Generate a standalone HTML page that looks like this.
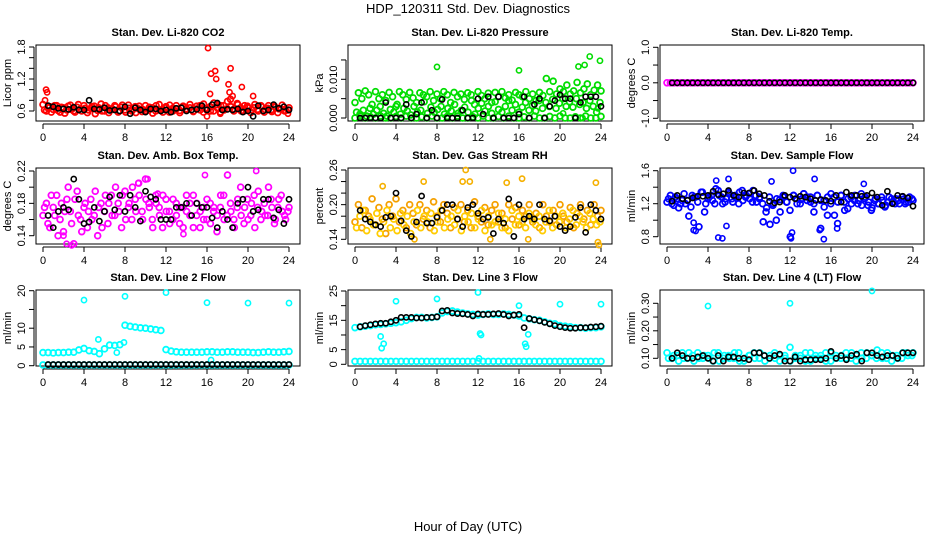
<!DOCTYPE html>
<html><head><meta charset="utf-8"><title>HDP_120311 Std. Dev. Diagnostics</title>
<style>
body{margin:0;background:#fff;}
svg{display:block;font-family:"Liberation Sans",Arial,sans-serif;}
</style></head>
<body>
<svg id="chart" width="936" height="540" viewBox="0 0 936 540">
<text x="468" y="13" text-anchor="middle" font-size="13">HDP_120311 Std. Dev. Diagnostics</text>
<text x="468" y="531" text-anchor="middle" font-size="13">Hour of Day (UTC)</text>
</svg>
<script>
// ---------- data ----------
const hourTicks = [0,4,8,12,16,20,24];

const co2Red1 = [0.72,0.6,0.68,0.63,0.7,0.58,0.66,0.62,0.71,0.6,0.67,0.64,0.7,0.57,0.65,0.69,0.61,0.73,0.6,0.66,0.63,0.7,0.58,0.67,0.62,0.71,0.6,0.68,0.64,0.59,0.7,0.62,0.66,0.6,0.72,0.63,0.68,0.58,0.65,0.7,0.61,0.67,0.64,0.72,0.6,0.69,0.62,0.73,0.65,0.6,0.75,0.66,0.7,0.62,0.78,0.68,0.64,0.72,0.6,0.7,0.66,0.62,0.72,0.6,0.68,0.63,0.7,0.59,0.67,0.64,0.71,0.61,0.66];
const co2Red2 = [0.62,0.66,0.58,0.7,0.61,0.67,0.56,0.69,0.63,0.58,0.72,0.6,0.65,0.62,0.68,0.55,0.66,0.6,0.7,0.57,0.64,0.68,0.6,0.71,0.58,0.65,0.62,0.57,0.69,0.63,0.6,0.67,0.56,0.7,0.62,0.58,0.66,0.71,0.6,0.64,0.57,0.69,0.62,0.66,0.59,0.64,0.7,0.58,0.62,0.68,0.6,0.72,0.58,0.7,0.64,0.82,0.6,0.74,0.66,0.6,0.69,0.57,0.66,0.63,0.7,0.58,0.65,0.62,0.69,0.57,0.64,0.6,0.62];
const co2OutHours = [0.3,0.4,0.2,16.1,16.4,16.3,16.8,16.9,18.3,18.1,18.2,19.4,18.5,20.5,16.0,17.3,23.9];
const co2OutVals = [1.0,0.95,0.8,1.78,1.3,0.92,1.35,1.2,1.4,1.1,0.95,1.05,0.88,0.88,0.5,0.55,0.55];
const co2Black = [0.7,0.68,0.65,0.64,0.63,0.67,0.62,0.62,0.8,0.64,0.63,0.66,0.61,0.62,0.6,0.68,0.55,0.66,0.62,0.58,0.64,0.64,0.6,0.62,0.58,0.65,0.66,0.6,0.62,0.63,0.7,0.62,0.72,0.75,0.62,0.63,0.62,0.64,0.58,0.6,0.5,0.7,0.6,0.62,0.72,0.65,0.68,0.62];

const presGreen1 = [0.004,0.0065,0.005,0.007,0.006,0.0035,0.0068,0.005,0.006,0.0045,0.0066,0.0055,0.003,0.0068,0.006,0.0048,0.0066,0.0052,0.004,0.0065,0.006,0.0055,0.0068,0.0045,0.0062,0.005,0.0068,0.006,0.004,0.0066,0.0055,0.0062,0.0048,0.0065,0.006,0.0035,0.0068,0.0058,0.005,0.0064,0.004,0.0066,0.0055,0.0068,0.0052,0.006,0.0046,0.0066,0.006,0.0055,0.0068,0.005,0.0062,0.0045,0.0066,0.0058,0.0102,0.0068,0.0095,0.0062,0.0075,0.0068,0.0085,0.0062,0.007,0.0092,0.0065,0.0075,0.0088,0.006,0.0072,0.0085,0.007];
const presGreen2 = [0.0015,0.001,0.002,0.0005,0.0025,0.001,0.002,0.003,0.0012,0.0005,0.0022,0.0015,0.0035,0.001,0.0025,0.0018,0.0008,0.003,0.0015,0.002,0.0042,0.0012,0.0028,0.0015,0.0022,0.003,0.001,0.0025,0.0018,0.0035,0.0012,0.002,0.0028,0.0015,0.0045,0.001,0.0025,0.0038,0.0018,0.003,0.0012,0.0042,0.0022,0.0015,0.003,0.0045,0.002,0.0035,0.0015,0.0028,0.004,0.002,0.0032,0.0018,0.0045,0.0025,0.004,0.003,0.0048,0.0025,0.0038,0.005,0.003,0.0042,0.0028,0.005,0.0035,0.004,0.0025,0.0045,0.003,0.0015,0.004];
const presGreen3 = [0,0.0005,0,0.0003,0,0.0005,0,0,0.0004,0,0.0005,0,0,0.0003,0,0.0005,0,0,0.0004,0,0.0005,0,0,0.0003,0,0.0005,0,0,0.0004,0,0.0005,0,0,0.0003,0,0.0005,0,0,0.0004,0,0.0005,0,0,0.0003,0,0.0005,0,0,0.0004];
const presOutHours = [8,16,21.8,22.4,22.9,23.9,23.7,20.3,22.2];
const presOutVals = [0.0132,0.0123,0.0133,0.0137,0.0159,0.0148,0.0025,0.0012,0.0];
const presBlack = [0,0,0,0,0,0.004,0,0,0,0.0035,0,0.001,0.004,0,0.002,0,0.0048,0,0,0,0.002,0,0,0.005,0.001,0.0055,0,0.0055,0,0,0,0.001,0.0055,0,0.0035,0.005,0,0.003,0.0045,0.006,0.005,0.005,0,0.004,0.0055,0.0055,0.0055,0.003];

const tempMagenta = [0,0,0,0,0,0,0,0,0,0,0,0,0,0,0,0,0,0,0,0,0,0,0,0,0,0,0,0,0,0,0,0,0,0,0,0,0,0,0,0,0,0,0,0,0,0,0,0,0,0,0,0,0,0,0,0,0,0,0,0,0,0,0,0,0,0,0,0,0,0,0,0,0];
const tempBlack = [0,0,0,0,0,0,0,0,0,0,0,0,0,0,0,0,0,0,0,0,0,0,0,0,0,0,0,0,0,0,0,0,0,0,0,0,0,0,0,0,0,0,0,0,0,0,0,0];

const ambMag1 = [0.165,0.18,0.15,0.175,0.19,0.16,0.145,0.185,0.17,0.13,0.195,0.16,0.175,0.15,0.185,0.165,0.14,0.18,0.17,0.155,0.19,0.165,0.18,0.15,0.195,0.175,0.16,0.185,0.205,0.17,0.21,0.18,0.16,0.19,0.175,0.15,0.185,0.17,0.16,0.18,0.155,0.175,0.19,0.165,0.15,0.18,0.17,0.16,0.185,0.155,0.175,0.165,0.19,0.16,0.215,0.17,0.15,0.185,0.165,0.175,0.16,0.18,0.15,0.195,0.17,0.165,0.2,0.175,0.16,0.185,0.17,0.16,0.175];
const ambMag2 = [0.175,0.155,0.19,0.165,0.14,0.18,0.17,0.2,0.155,0.185,0.165,0.145,0.18,0.17,0.16,0.195,0.175,0.15,0.19,0.18,0.165,0.2,0.17,0.19,0.16,0.18,0.2,0.17,0.19,0.16,0.185,0.175,0.15,0.18,0.165,0.19,0.17,0.155,0.185,0.165,0.175,0.15,0.17,0.18,0.19,0.165,0.15,0.175,0.16,0.18,0.17,0.145,0.175,0.19,0.165,0.18,0.16,0.175,0.2,0.155,0.185,0.165,0.19,0.175,0.16,0.18,0.165,0.185,0.155,0.175,0.19,0.165,0.17];
const ambOutHours = [2.3,2.8,2.0,15.8,20.8,11.2,13.7,9.3,10.2];
const ambOutVals = [0.13,0.128,0.14,0.215,0.22,0.192,0.142,0.205,0.21];
const ambBlack = [0.165,0.15,0.17,0.175,0.172,0.21,0.185,0.155,0.157,0.175,0.158,0.17,0.188,0.172,0.19,0.17,0.19,0.175,0.158,0.195,0.188,0.185,0.16,0.16,0.16,0.175,0.175,0.18,0.165,0.18,0.175,0.175,0.162,0.15,0.17,0.16,0.15,0.18,0.185,0.2,0.17,0.172,0.185,0.185,0.162,0.172,0.155,0.185];

const rhOrange1 = [0.17,0.2,0.16,0.19,0.18,0.21,0.165,0.195,0.175,0.15,0.2,0.18,0.21,0.17,0.19,0.16,0.2,0.185,0.165,0.2,0.175,0.19,0.16,0.205,0.18,0.17,0.2,0.185,0.16,0.195,0.175,0.2,0.17,0.19,0.16,0.205,0.18,0.17,0.195,0.165,0.19,0.2,0.17,0.185,0.16,0.2,0.175,0.195,0.165,0.19,0.18,0.2,0.17,0.185,0.16,0.2,0.18,0.17,0.19,0.165,0.2,0.18,0.17,0.195,0.16,0.185,0.2,0.175,0.19,0.165,0.2,0.18,0.19];
const rhOrange2 = [0.16,0.18,0.19,0.155,0.175,0.165,0.185,0.15,0.17,0.19,0.16,0.175,0.155,0.185,0.165,0.18,0.15,0.17,0.19,0.16,0.18,0.17,0.185,0.155,0.17,0.19,0.16,0.175,0.18,0.165,0.19,0.155,0.18,0.17,0.185,0.16,0.175,0.19,0.155,0.18,0.165,0.17,0.185,0.16,0.175,0.155,0.19,0.165,0.18,0.17,0.16,0.185,0.175,0.165,0.18,0.155,0.17,0.19,0.16,0.18,0.17,0.185,0.16,0.175,0.19,0.165,0.18,0.17,0.16,0.185,0.175,0.165,0.17];
const rhOutHours = [10.8,16.3,6.7,10.5,11.2,2.7,14.8,23.5,5.8,13.2,16.9,23.7,23.8];
const rhOutVals = [0.26,0.245,0.24,0.24,0.24,0.232,0.238,0.238,0.14,0.14,0.14,0.135,0.13];
const rhBlack = [0.19,0.175,0.17,0.165,0.162,0.178,0.18,0.22,0.172,0.155,0.145,0.17,0.215,0.168,0.168,0.178,0.19,0.2,0.2,0.175,0.162,0.195,0.2,0.185,0.175,0.178,0.15,0.175,0.168,0.21,0.145,0.2,0.175,0.18,0.175,0.2,0.175,0.172,0.18,0.162,0.155,0.162,0.178,0.195,0.152,0.2,0.19,0.175];

const flowBlue1 = [1.22,1.3,1.18,1.26,1.2,1.32,1.24,1.16,1.28,1.22,1.34,1.1,1.26,1.3,1.2,1.36,1.28,1.22,1.34,1.26,1.3,1.2,1.36,1.28,1.32,1.22,1.3,1.26,1.2,1.1,1.28,1.18,1.0,1.25,1.3,1.22,1.12,1.3,1.26,1.2,1.32,1.24,1.28,1.2,1.3,1.24,1.16,1.28,1.32,1.06,1.22,1.3,1.12,1.26,1.2,1.3,1.24,1.18,1.28,1.22,1.15,1.26,1.2,1.24,1.18,1.28,1.22,1.26,1.2,1.25,1.22,1.28,1.24];
const flowBlue2 = [1.26,1.2,1.28,1.15,1.24,1.2,1.05,1.3,1.28,0.92,1.34,1.2,1.28,1.24,1.38,1.3,1.2,1.26,1.32,1.22,1.28,1.34,1.24,1.3,1.26,1.36,1.22,1.28,0.98,1.15,0.95,1.2,1.26,1.1,1.28,1.22,0.8,1.3,1.2,1.25,1.32,1.28,1.22,1.1,1.3,0.9,1.24,1.06,1.2,1.28,0.96,1.3,1.22,1.14,1.28,1.24,1.2,1.32,1.26,1.18,1.12,1.24,1.2,1.28,1.16,1.22,1.26,1.2,1.24,1.28,1.2,1.22,1.26];
const flowOutHours = [2.6,2.8,2.6,5.0,5.4,5.8,12.1,12.2,12.3,15.3,14.9,16.6,4.8,6.0,14.4,19.2,10.2];
const flowOutVals = [0.88,0.87,0.97,0.79,0.78,0.93,0.78,0.85,1.6,0.77,0.88,0.9,1.48,1.5,1.5,1.44,1.47];
const flowBlack = [1.23,1.3,1.26,1.24,1.27,1.29,1.29,1.3,1.35,1.31,1.32,1.36,1.3,1.28,1.33,1.33,1.36,1.32,1.3,1.23,1.21,1.22,1.3,1.28,1.26,1.29,1.28,1.26,1.24,1.25,1.24,1.23,1.3,1.22,1.34,1.3,1.3,1.29,1.3,1.33,1.28,1.18,1.35,1.2,1.3,1.29,1.27,1.17];

const line2Cyan = [3.5,3.5,3.4,3.5,3.5,3.6,3.6,4.2,4.6,4.0,3.8,3.2,4.5,5.5,5.4,5.6,10.8,10.5,10.3,10.1,10.0,9.8,9.6,9.4,4.3,3.9,3.7,3.6,3.6,3.6,3.6,3.6,3.7,3.7,3.6,3.6,3.7,3.7,3.6,3.6,3.6,3.5,3.5,3.6,3.7,3.6,3.6,3.7,3.8];
const line2CyanLow = [0.2,0.2,0.2,0.2,0.2,0.2,0.2,0.2,0.2,0.2,0.2,0.2,0.2,0.2,0.2,0.2,0.2,0.2,0.2,0.2,0.2,0.2,0.2,0.2,0.2,0.2,0.2,0.2,0.2,0.2,0.2,0.2,0.2,0.2,0.2,0.2,0.2,0.2,0.2,0.2,0.2,0.2,0.2,0.2,0.2,0.2,0.2,0.2,0.2];
const line2OutHours = [4,8,12,16,20,24,5.4,7.9,7.2,16.4];
const line2OutVals = [17.5,18.5,19.5,16.8,16.7,16.7,7,6.2,3.5,1.5];
const line2Black = [0.3,0.3,0.3,0.3,0.3,0.3,0.3,0.3,0.3,0.3,0.3,0.3,0.3,0.3,0.3,0.3,0.3,0.3,0.3,0.3,0.3,0.3,0.3,0.3,0.3,0.3,0.3,0.3,0.3,0.3,0.3,0.3,0.3,0.3,0.3,0.3,0.3,0.3,0.3,0.3,0.3,0.3,0.3,0.3,0.3,0.3,0.3,0.3];

const line3Cyan = [12.5,12.8,13,13.2,13.5,13.6,13.8,14,14.2,14.5,15,15.6,16,16,15.8,16,16.2,17.5,18,18.2,17.8,17.5,17.2,17,16.8,17,17.2,17,17,17.2,17,16.8,16.5,15.8,15.5,15.2,15,14.5,14,13.8,13.2,13,12.8,12.5,12.5,12.3,12.5,12.5,12.8];
const line3CyanLow = [1,1,1,1,1,1,1,1,1,1,1,1,1,1,1,1,1,1,1,1,1,1,1,1,1,1,1,1,1,1,1,1,1,1,1,1,1,1,1,1,1,1,1,1,1,1,1,1,1];
const line3OutHours = [4,8,12,16,20,24,2.5,2.6,2.8,12.2,12.3,16.6,16.7,16.9,12.1];
const line3OutVals = [21.5,22.3,24.5,20,20.5,20.5,9.5,5.5,7,10.5,10,7,6,10.2,2];
const line3Black = [12.8,13.2,13.5,13.8,14,14,14.5,15,16,16,16,15.8,15.8,16,16,16.2,18.2,18.4,17.5,17.3,17.2,17,16.5,17.2,17,17,17.2,17.3,17,16.5,16.8,17,12.5,15.6,15.2,14.8,14.3,13.8,13.2,12.8,12.5,12.3,12.3,12.5,12.5,12.7,12.8,13];

const line4Cyan1 = [0.12,0.1,0.11,0.12,0.1,0.11,0.12,0.1,0.11,0.09,0.12,0.1,0.11,0.1,0.12,0.09,0.11,0.12,0.1,0.11,0.1,0.12,0.09,0.11,0.14,0.1,0.11,0.09,0.12,0.1,0.11,0.09,0.12,0.1,0.11,0.1,0.12,0.11,0.1,0.12,0.11,0.13,0.1,0.12,0.11,0.1,0.12,0.11,0.12];
const line4Cyan2 = [0.1,0.11,0.09,0.1,0.12,0.09,0.1,0.11,0.1,0.12,0.09,0.11,0.1,0.12,0.09,0.1,0.11,0.1,0.12,0.09,0.11,0.1,0.11,0.1,0.09,0.11,0.1,0.12,0.09,0.11,0.1,0.12,0.09,0.11,0.1,0.12,0.1,0.09,0.12,0.1,0.11,0.1,0.12,0.1,0.09,0.11,0.1,0.12,0.11];
const line4OutHours = [4,12,20];
const line4OutVals = [0.29,0.3,0.345];
const line4Black = [0.1,0.12,0.11,0.1,0.1,0.105,0.11,0.1,0.09,0.11,0.09,0.105,0.105,0.1,0.1,0.095,0.12,0.12,0.11,0.1,0.11,0.115,0.09,0.09,0.105,0.09,0.095,0.095,0.095,0.095,0.1,0.125,0.1,0.11,0.095,0.11,0.115,0.09,0.12,0.12,0.11,0.105,0.11,0.11,0.1,0.12,0.12,0.12];

// ---------- layout ----------
const NS = 'http://www.w3.org/2000/svg';
const svg = document.getElementById('chart');
const colLeft = [36, 348, 660];
const rowTop = [45, 168, 290];
const boxW = 264, boxH = 76;

function mk(tag, attrs, parent){
  const e = document.createElementNS(NS, tag);
  for (const k in attrs) e.setAttribute(k, attrs[k]);
  (parent||svg).appendChild(e);
  return e;
}

const panels = [
 {key:'co2',title:'Stan. Dev. Li-820 CO2',ylab:'Licor ppm',col:0,row:0,ref:[1.8,2,0.6,66],ticks:[0.6,0.8,1.0,1.2,1.4,1.6,1.8],labels:[0.6,1.2,1.8],fmt:1,
  series:[{v:co2Red1,c:'#ff0000',s:0,e:24},{v:co2Red2,c:'#ff0000',s:0.15,e:23.9}],outH:co2OutHours,outV:co2OutVals,outC:'#ff0000',black:co2Black},
 {key:'pressure',title:'Stan. Dev. Li-820 Pressure',ylab:'kPa',col:1,row:0,ref:[0.01,34.3,0,73],ticks:[0,0.005,0.01,0.015],labels:[0,0.01],fmt:3,
  series:[{v:presGreen1,c:'#00dd00',s:0,e:24},{v:presGreen2,c:'#00dd00',s:0.15,e:23.9},{v:presGreen3,c:'#00dd00',s:0,e:24}],outH:presOutHours,outV:presOutVals,outC:'#00dd00',black:presBlack},
 {key:'licor-temp',title:'Stan. Dev. Li-820 Temp.',ylab:'degrees C',col:2,row:0,ref:[1,2.3,-1,73.3],ticks:[-1,-0.5,0,0.5,1],labels:[-1,0,1],fmt:1,
  series:[{v:tempMagenta,c:'#ff00ff',s:0,e:24}],outH:[],outV:[],outC:'#ff00ff',black:tempBlack},
 {key:'amb-box-temp',title:'Stan. Dev. Amb. Box Temp.',ylab:'degrees C',col:0,row:1,ref:[0.22,3,0.14,67.7],ticks:[0.14,0.16,0.18,0.2,0.22],labels:[0.14,0.18,0.22],fmt:2,
  series:[{v:ambMag1,c:'#ff00ff',s:0,e:24},{v:ambMag2,c:'#ff00ff',s:0.15,e:23.9}],outH:ambOutHours,outV:ambOutVals,outC:'#ff00ff',black:ambBlack},
 {key:'gas-rh',title:'Stan. Dev. Gas Stream RH',ylab:'percent',col:1,row:1,ref:[0.26,2,0.14,71.3],ticks:[0.14,0.16,0.18,0.2,0.22,0.24,0.26],labels:[0.14,0.2,0.26],fmt:2,
  series:[{v:rhOrange1,c:'#f5a000',s:0,e:24},{v:rhOrange2,c:'#ffcc00',s:0.15,e:23.9}],outH:rhOutHours,outV:rhOutVals,outC:'#f5b000',black:rhBlack},
 {key:'sample-flow',title:'Stan. Dev. Sample Flow',ylab:'ml/min',col:2,row:1,ref:[1.6,2.7,0.8,68.7],ticks:[0.8,1.0,1.2,1.4,1.6],labels:[0.8,1.2,1.6],fmt:1,
  series:[{v:flowBlue1,c:'#0000ff',s:0,e:24},{v:flowBlue2,c:'#0000ff',s:0.15,e:23.9}],outH:flowOutHours,outV:flowOutVals,outC:'#0000ff',black:flowBlack},
 {key:'line2-flow',title:'Stan. Dev. Line 2 Flow',ylab:'ml/min',col:0,row:2,ref:[20,0.7,0,75.7],ticks:[0,5,10,15,20],labels:[0,5,10,20],fmt:0,
  series:[{v:line2Cyan,c:'#00ffff',s:0,e:24},{v:line2CyanLow,c:'#00ffff',s:0,e:24}],outH:line2OutHours,outV:line2OutVals,outC:'#00ffff',black:line2Black},
 {key:'line3-flow',title:'Stan. Dev. Line 3 Flow',ylab:'ml/min',col:1,row:2,ref:[25,1,0,74.3],ticks:[0,5,10,15,20,25],labels:[0,5,15,25],fmt:0,
  series:[{v:line3Cyan,c:'#00ffff',s:0,e:24},{v:line3CyanLow,c:'#00ffff',s:0,e:24}],outH:line3OutHours,outV:line3OutVals,outC:'#00ffff',black:line3Black},
 {key:'line4-flow',title:'Stan. Dev. Line 4 (LT) Flow',ylab:'ml/min',col:2,row:2,ref:[0.3,13.3,0.1,68.3],ticks:[0.1,0.15,0.2,0.25,0.3],labels:[0.1,0.2,0.3],fmt:2,
  series:[{v:line4Cyan1,c:'#00ffff',s:0,e:24},{v:line4Cyan2,c:'#00ffff',s:0.15,e:23.9}],outH:line4OutHours,outV:line4OutVals,outC:'#00ffff',black:line4Black}
];

panels.forEach(p=>{
  const L = colLeft[p.col], T = rowTop[p.row];
  const g = mk('g',{});
  
  
  const xS = h => L + 7 + h*10.25;
  const k = (p.ref[3]-p.ref[1])/(p.ref[2]-p.ref[0]);
  const yS = v => T + p.ref[1] + (v - p.ref[0])*k;

  const t = mk('text',{x:L+boxW/2,y:T-9,'text-anchor':'middle','font-size':'11','font-weight':'bold'},g);
  t.textContent = p.title;
  
  

  const box = mk('rect',{x:L,y:T,width:boxW,height:boxH,fill:'none',stroke:'#000','stroke-width':1},g);
  
  

  const xa = mk('g',{},g);
  
  
  const ay = T + boxH + 3;
  mk('line',{x1:xS(0),x2:xS(24),y1:ay,y2:ay,stroke:'#000'},xa);
  hourTicks.forEach(h=>{
    mk('line',{x1:xS(h),x2:xS(h),y1:ay,y2:ay+5,stroke:'#000'},xa);
    const tl = mk('text',{x:xS(h),y:ay+17,'text-anchor':'middle','font-size':'11'},xa);
    tl.textContent = h;
    
    
  });

  const ya = mk('g',{},g);
  
  
  const ax = L - 2;
  mk('line',{x1:ax,x2:ax,y1:yS(p.ticks[0]),y2:yS(p.ticks[p.ticks.length-1]),stroke:'#000'},ya);
  p.ticks.forEach(v=>{
    mk('line',{x1:ax-5,x2:ax,y1:yS(v),y2:yS(v),stroke:'#000'},ya);
  });
  p.labels.forEach(v=>{
    const yy = yS(v);
    const tl = mk('text',{x:ax-9,y:yy,'text-anchor':'middle','font-size':'11',transform:`rotate(-90 ${ax-9} ${yy})`},ya);
    tl.textContent = v.toFixed(p.fmt);
    
    
  });
  const yt = mk('text',{x:L-25,y:T+boxH/2,'text-anchor':'middle','font-size':'11',transform:`rotate(-90 ${L-25} ${T+boxH/2})`},g);
  yt.textContent = p.ylab;
  
  

  p.series.forEach(s=>{
    const n = s.v.length;
    s.v.forEach((v,i)=>{
      const h = s.s + i*(s.e - s.s)/(n-1);
      const c = mk('circle',{cx:xS(h),cy:yS(v),r:2.9,fill:'none',stroke:s.c,'stroke-width':1.8},g);
      
      
    });
  });
  p.outH.forEach((h,i)=>{
    const c = mk('circle',{cx:xS(h),cy:yS(p.outV[i]),r:2.6,fill:'none',stroke:p.outC,'stroke-width':1.6},g);
    
    
  });
  p.black.forEach((v,i)=>{
    const h = 0.5 + i*0.5;
    const c = mk('circle',{cx:xS(h),cy:yS(v),r:2.6,fill:'none',stroke:'#000','stroke-width':1.6},g);
    
    
  });
});
</script>
</body></html>
